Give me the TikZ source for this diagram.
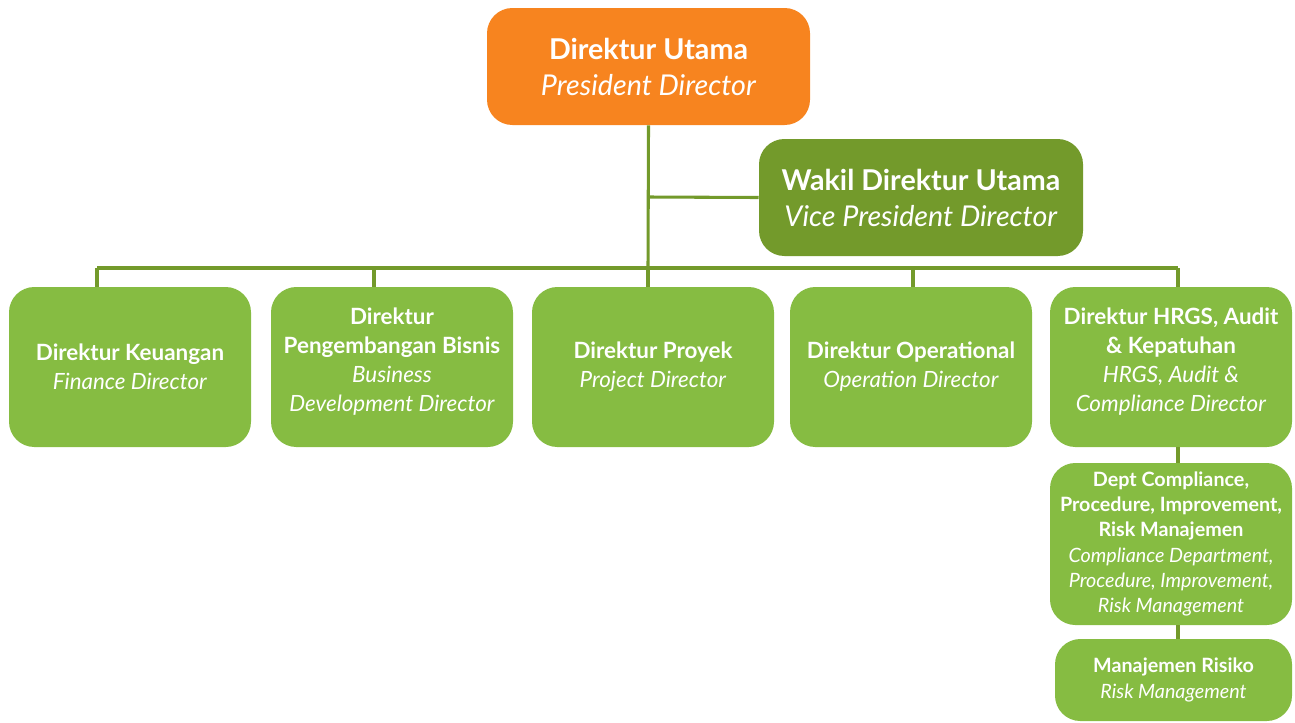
\documentclass[tikz,border=0pt]{standalone}
\usepackage{fontspec}
\setmainfont{Lato}
\usepackage{tikz}
\usetikzlibrary{positioning}

\definecolor{orgorange}{HTML}{F7841F}
\definecolor{orgdark}{HTML}{739A2B}
\definecolor{orglight}{HTML}{86BC42}

\tikzset{
  orgbox/.style={rounded corners=19pt, text=white, align=center, inner sep=0pt},
  topbox/.style={orgbox, fill=orgorange, minimum width=242.25pt, minimum height=87.75pt,
    font=\fontsize{21.5}{27}\selectfont},
  vicebox/.style={orgbox, fill=orgdark, minimum width=243pt, minimum height=87.75pt,
    font=\fontsize{21.5}{27}\selectfont},
  dirbox/.style={orgbox, fill=orglight, minimum width=181.5pt, minimum height=120pt,
    font=\fontsize{16.8}{21.8}\selectfont},
  tallbox/.style={dirbox, text depth=11.5pt},
  deptbox/.style={orgbox, fill=orglight, minimum width=181.5pt, minimum height=121.5pt,
    font=\fontsize{14.8}{19}\selectfont},
  orgline/.style={draw=orgdark, line width=2.3pt}
}

\begin{document}
\begin{tikzpicture}[x=0.75pt, y=-0.75pt]
        \useasboundingbox (0,0) rectangle (1295,722);
        % lines
        \coordinate (trunk) at (648,268);
        \coordinate (bus l) at (97,268);
        \coordinate (bus r) at (1178,268);
        \coordinate (branch) at (648,197);
        % boxes
        \node [topbox] (pd) at (648.5,66.5) {\textbf{Direktur Utama}\\\textit{President Director}};
        \node [vicebox] (vpd) at (921,197.5) {\textbf{Wakil Direktur Utama}\\\textit{Vice President Director}};
        \node [dirbox] (fin) at (130,367) {\textbf{Direktur Keuangan}\\\textit{Finance Director}};
        \node [tallbox] (bisnis) at (392,367) {\textbf{Direktur}\\\textbf{Pengembangan Bisnis}\\\textit{Business}\\\textit{Development Director}};
        \node [dirbox] (proyek) at (653,367) {\textbf{Direktur Proyek}\\\textit{Project Director}};
        \node [dirbox] (ops) at (911,367) {\textbf{Direktur Operational}\\\textit{Operation Director}};
        \node [tallbox] (hrgs) at (1171,367) {\textbf{Direktur HRGS, Audit}\\\textbf{\& Kepatuhan}\\\textit{HRGS, Audit \&}\\\textit{Compliance Director}};
        \node [deptbox] (dept) at (1171,544) {\textbf{Dept Compliance,}\\\textbf{Procedure, Improvement,}\\\textbf{Risk Manajemen}\\\textit{Compliance Department,}\\\textit{Procedure, Improvement,}\\\textit{Risk Management}};
        \node [deptbox, minimum width=177.75pt, minimum height=61.5pt] (risiko) at (1173.5,680) {\textbf{Manajemen Risiko}\\\textit{Risk Management}};
        \draw [orgline] (pd.south) -- (trunk);
        \draw [orgline] (branch) -- (vpd.west);
        \draw [orgline] (bus l) -- (bus r);
        \draw [orgline] (bus l) -- (bus l |- fin.north);
        \draw [orgline] (374,268) -- (374,287);
        \draw [orgline] (trunk) -- (trunk |- proyek.north);
        \draw [orgline] (913,268) -- (913,287);
        \draw [orgline] (bus r) -- (bus r |- hrgs.north);
        \draw [orgline] (hrgs.south -| bus r) -- (dept.north -| bus r);
        \draw [orgline] (dept.south -| bus r) -- (risiko.north -| bus r);
\end{tikzpicture}
\end{document}
